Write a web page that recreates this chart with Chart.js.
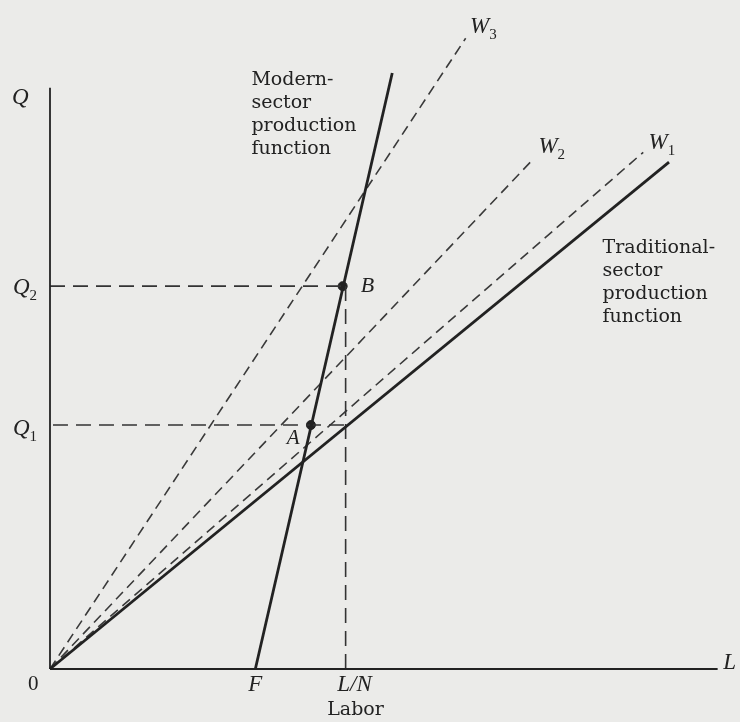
<!DOCTYPE html>
<html>
<head>
<meta charset="utf-8">
<script src="https://cdn.jsdelivr.net/npm/chart.js@4"></script>
<style>
  body { margin: 0; background: #ebebe9; }
  #box { width: 740px; height: 722px; }
</style>
</head>
<body>
<div id="box"><canvas id="graphic"></canvas></div>
<script>
// axis lengths (labor on x, output Q on y)
const laborMax = 673;
const outputMax = 586;

// levels on the axes
const F = 207;
const LN = 298;
const Q1 = 246;
const Q2 = 386;

// production functions
const traditionalX = [0, 624];
const traditionalY = [0, 511];
const modernX = [207, 345];
const modernY = [0, 601];

// wage lines from the origin
const wageNames = ['W1', 'W2', 'W3'];
const wageEndX = [598, 487, 419];
const wageEndY = [521, 514, 636];

// equilibrium points
const pointNames = ['A', 'B'];
const pointX = [263, 295];
const pointY = [246, 386];

const ink = '#222222';
const serif = '"Liberation Serif", "DejaVu Serif", serif';
const wide = '"DejaVu Serif", serif';

const line = (xs, ys, opts) => Object.assign({
    data: xs.map((x, i) => ({ x: x, y: ys[i] })),
    showLine: true,
    borderColor: ink,
    borderWidth: 2,
    pointRadius: 0,
    fill: false,
    clip: false
}, opts);

let datasets = [
    line([0, laborMax], [0, 0], { borderWidth: 1.8 }),
    line([0, 0], [0, outputMax], { borderWidth: 1.8 }),
    line(traditionalX, traditionalY, { borderWidth: 2.8 }),
    line(modernX, modernY, { borderWidth: 2.8 }),
    line([0, pointX[1]], [Q2, Q2], { borderWidth: 1.6, borderColor: '#333', borderDash: [15, 8] }),
    line([3, LN], [Q1, Q1], { borderWidth: 1.6, borderColor: '#333', borderDash: [15, 8] }),
    line([LN, LN], [0, Q2], { borderWidth: 1.6, borderColor: '#333', borderDash: [15, 8] })
];
wageNames.forEach((n, i) => {
    datasets.push(line([0, wageEndX[i]], [0, wageEndY[i]], { borderWidth: 1.6, borderColor: '#3a3a3a', borderDash: [10, 6] }));
});
datasets.push({
    data: pointNames.map((n, i) => ({ x: pointX[i], y: pointY[i] })),
    showLine: false,
    pointRadius: 4.5,
    backgroundColor: ink,
    borderColor: ink
});

// text labels, positions in data units
const labels = [
    { t: 'Q', x: -30, y: 576, it: true, size: 23 },
    { t: 'Q', sub: '2', x: -29, y: 384, it: true, size: 23 },
    { t: 'Q', sub: '1', x: -29, y: 242, it: true, size: 23 },
    { t: '0', x: -17, y: -16, size: 21 },
    { t: 'F', x: F, y: -16, it: true, size: 23 },
    { t: 'L/N', x: 307, y: -16, it: true, size: 23 },
    { t: 'Labor', x: 308, y: -41, size: 19, wide: true },
    { t: 'L', x: 685, y: 6, it: true, size: 23 },
    { t: 'W', sub: '3', x: 433, y: 647, it: true, size: 23 },
    { t: 'W', sub: '2', x: 502, y: 526, it: true, size: 23 },
    { t: 'W', sub: '1', x: 613, y: 530, it: true, size: 23 },
    { t: 'A', x: 245, y: 232, it: true, size: 21 },
    { t: 'B', x: 320, y: 386, it: true, size: 22 }
];
const blocks = [
    { lines: ['Modern-', 'sector', 'production', 'function'], x: 203, y: 594 },
    { lines: ['Traditional-', 'sector', 'production', 'function'], x: 557, y: 424 }
];

const paper = {
    id: 'paper',
    beforeDraw(chart) {
        const c = chart.ctx;
        c.save();
        c.fillStyle = '#ebebe9';
        c.fillRect(0, 0, chart.width, chart.height);
        c.restore();
    },
    afterDatasetsDraw(chart) {
        const c = chart.ctx;
        const sx = chart.scales.x, sy = chart.scales.y;
        c.save();
        c.fillStyle = ink;
        c.textBaseline = 'middle';
        labels.forEach(l => {
            const px = sx.getPixelForValue(l.x), py = sy.getPixelForValue(l.y);
            c.font = (l.it ? 'italic ' : '') + l.size + 'px ' + (l.wide ? wide : serif);
            c.textAlign = 'center';
            c.fillText(l.t, px, py);
            if (l.sub) {
                const w = c.measureText(l.t).width;
                c.font = Math.round(l.size * 0.65) + 'px ' + serif;
                c.textAlign = 'left';
                c.fillText(l.sub, px + w / 2, py + 8);
            }
        });
        c.font = '19px ' + wide;
        c.textAlign = 'left';
        blocks.forEach(b => {
            b.lines.forEach((s, i) => {
                c.fillText(s, sx.getPixelForValue(b.x), sy.getPixelForValue(b.y) + i * 23);
            });
        });
        c.restore();
    }
};

const ctx = document.getElementById('graphic');

let grafico = new Chart(ctx, {
    type: 'scatter',
    data: { datasets: datasets },
    options: {
        responsive: true,
        maintainAspectRatio: false,
        animation: false,
        layout: { padding: { left: 50, right: 0, top: 0, bottom: 53 } },
        plugins: { legend: { display: false }, tooltip: { enabled: false } },
        scales: {
            x: { type: 'linear', min: 0, max: 690, display: false },
            y: { type: 'linear', min: 0, max: 669, display: false }
        }
    },
    plugins: [paper]
});
</script>
</body>
</html>
